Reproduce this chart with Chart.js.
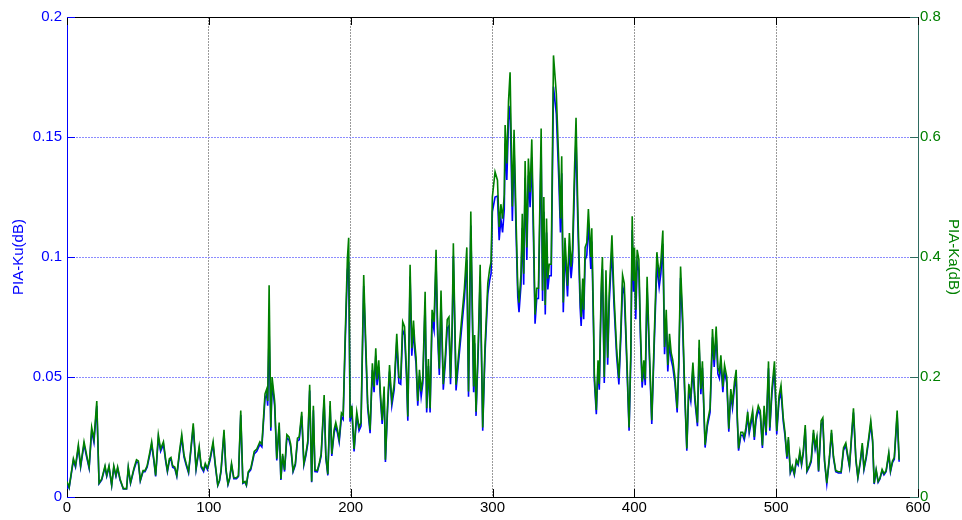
<!DOCTYPE html>
<html>
<head>
<meta charset="utf-8">
<script src="https://cdn.jsdelivr.net/npm/chart.js@4/dist/chart.umd.min.js"></script>
<style>
  html, body { margin: 0; padding: 0; background: #fff; }
  #wrap { width: 962px; height: 520px; position: relative; }
</style>
</head>
<body>
<div id="wrap"><canvas id="pia" width="962" height="520"></canvas></div>
<script>
// sample index along the track
const xPos = [
  0, 1.5, 4.5, 6, 8, 9.6, 12, 14, 15.6, 17.4, 19, 21, 22.6, 24.5, 26.8, 28, 29.6, 31.5, 33, 34.5,
  35.7, 37.4, 39.7, 42, 43.2, 44.8, 47.2, 49, 50.3, 51.7, 53.6, 55, 56.5, 58.5, 59.7, 61.3, 62.5, 64.4, 66, 68,
  69.6, 70.8, 72.2, 73.3, 74.5, 76, 77.4, 79.3, 80.9, 82.5, 84, 85.7, 87.3, 89, 91, 93.2, 94.6, 96.3, 97.5, 99,
  100.8, 103, 104.5, 106.3, 107.5, 108.6, 110.7, 112, 113.5, 114.7, 116, 117.6, 119.5, 120.9, 122.5, 124, 125.5, 126.5, 127.8, 129.6,
  131, 132, 133.8, 136, 137.4, 139.6, 140.8, 141.5, 142.5, 143.7, 144.6, 145.5, 146.4, 147.9, 149.6, 150.8, 152, 153.4, 155, 156.5,
  157.7, 159.4, 161, 162.5, 163.7, 165.5, 167, 168.4, 169.8, 171.1, 172.5, 173.7, 174.8, 176.5, 178, 179.2, 181.3, 182.5, 183.9, 185.5,
  186.7, 188.3, 189.5, 190.7, 191.9, 193.5, 194.7, 196, 197.7, 198.6, 199.6, 200.8, 202.4, 204.3, 205.9, 207.3, 209.2, 210.6, 212, 213.7,
  215.3, 216.5, 217.7, 218.6, 219.8, 221, 222.2, 223.6, 224.5, 226, 227.4, 229, 230.7, 232.5, 234, 235.3, 236.7, 238, 239.4, 240.3,
  241.9, 243.1, 244.3, 245.2, 246.1, 247.3, 248.5, 249.7, 250.9, 252.5, 253.6, 254.8, 256, 257.4, 258.8, 260.2, 261.3, 262.5, 263.7, 265.3,
  266.7, 268.1, 269.3, 270.4, 271.6, 272.4, 274.3, 275.9, 277.9, 280.2, 281.9, 283.1, 284.7, 286.7, 287.4, 288.4, 290, 291.3, 293.1, 294.7,
  296.7, 298, 299, 299.9, 301.8, 303.5, 304.7, 305.9, 307.1, 308.3, 308.9, 310.1, 311.3, 312.4, 314, 315.2, 316.6, 317.8, 318.7, 320.1,
  321, 322, 323, 324.2, 325.3, 326.5, 327.7, 328.9, 330, 331.2, 332.4, 334.3, 335.3, 336.2, 337.2, 338.1, 339, 340, 341.4, 343,
  345, 346.7, 347.9, 348.8, 349.9, 351.1, 352.9, 354.2, 355.4, 356.4, 357.8, 358.9, 360.1, 361.8, 362.5, 363.6, 364.3, 365.3, 366.5, 367.6,
  369.3, 370, 371.3, 371.8, 373.2, 374.4, 375.3, 376.7, 377.5, 378.8, 380, 381.2, 382.3, 384.2, 385.6, 387.5, 389.1, 390.5, 391.7, 392.9,
  394.6, 396.3, 397.5, 398.5, 399.4, 400.1, 401, 402, 403.2, 404.3, 405.5, 406.7, 407.7, 409, 410.4, 412.3, 414, 415.9, 417.5, 418.7,
  420.1, 421.3, 422.5, 423.6, 424.8, 426, 427.1, 428.6, 430.2, 431.4, 432.6, 434, 435.4, 437, 438.4, 439.8, 441.3, 442.7, 444.5, 445.7,
  446.9, 448, 449.9, 451.5, 453.4, 455.1, 456.3, 457.7, 458.9, 460, 461, 462.4, 463.6, 465.2, 466.6, 468, 469.2, 470.6, 471.8, 472.6,
  473.5, 475.1, 476.4, 477.5, 478.7, 479.9, 481, 482.2, 483.4, 484.6, 485.8, 487.4, 488.8, 490.3, 491.5, 492.9, 494.6, 495.5, 497, 498.8,
  500.4, 502, 503.4, 505, 506.2, 507.6, 508.6, 510, 511.4, 512.8, 514.2, 515.5, 516.7, 517.9, 519.1, 520.5, 521.7, 523.3, 524.7, 526.3,
  527.5, 528.7, 529.9, 531.7, 532.9, 534.1, 535.7, 537.6, 539, 540.4, 542, 543.9, 545.8, 547.5, 549.1, 550.3, 551.7, 553.4, 554.5, 556.2,
  557.6, 559.3, 560.7, 561.9, 563.5, 565.3, 566.7, 568, 569.1, 570.5, 571.9, 573.1, 574.7, 576, 577.5, 579.4, 580.6, 582, 583.3, 585.3,
  586.7
];

// PIA-Ku (dB), left axis
const piaKu = [
  .0061, .0038, .0152, .0124, .0206, .0124, .0219, .0162, .0119, .0276, .0228, .038, .0055, .0071, .0124, .0086, .0124, .0048, .0124, .0086,
  .0119, .0071, .0034, .0034, .0119, .0057, .0114, .0147, .0143, .0067, .0105, .0105, .0124, .018, .0219, .0147, .0086, .0247, .019, .0219,
  .0147, .0105, .0152, .0157, .0124, .0119, .0086, .018, .0247, .0166, .0133, .01, .019, .0292, .0114, .02, .0124, .0106, .0133, .0114,
  .0152, .0219, .0133, .0048, .0067, .0106, .0266, .0114, .0051, .0076, .0133, .0076, .0076, .0086, .0342, .0057, .0062, .0048, .01, .0114,
  .0152, .018, .019, .0219, .0209, .0409, .0428, .038, .07, .0276, .0475, .0428, .038, .0152, .0295, .0071, .0171, .0106, .0247, .0238,
  .0209, .0105, .0133, .0233, .0238, .0338, .0133, .0171, .0223, .0444, .0062, .0361, .0106, .0105, .0138, .0171, .0404, .0162, .009, .038,
  .0171, .0266, .0295, .0266, .0228, .0333, .0323, .0608, .0945, .098, .0314, .0361, .019, .0338, .0276, .0295, .0879, .0618, .0371, .0266,
  .0529, .0437, .0589, .0466, .0542, .0409, .0304, .0437, .0146, .0361, .0523, .038, .0447, .0646, .0475, .047, .0694, .0675, .0494, .0318,
  .0919, .0589, .0698, .0608, .0554, .038, .0504, .0418, .0475, .0812, .0352, .0546, .0352, .0741, .0694, .0979, .0675, .0508, .0817, .0447,
  .0556, .0703, .0713, .047, .0694, .1004, .0444, .0551, .0681, .0827, .0988, .0418, .1131, .0437, .0641, .0338, .0618, .0919, .0276, .0595,
  .0846, .0903, .0931, .1188, .125, .1254, .107, .1159, .1102, .1197, .1473, .1321, .1568, .163, .115, .1454, .1102, .0836, .077, .0884,
  .1121, .0884, .133, .0988, .134, .1207, .1416, .1074, .0722, .0827, .0827, .1459, .0817, .1188, .076, .1102, .0865, .0922, .0922, .171,
  .1596, .133, .1102, .1349, .077, .1026, .0836, .1045, .0912, .0979, .1292, .1501, .115, .0789, .0713, .0865, .0741, .0988, .1007, .114,
  .095, .1064, .0675, .0485, .0345, .0542, .0447, .0846, .095, .0475, .0899, .0551, .0808, .1036, .0808, .0589, .0469, .0665, .0879, .0846,
  .057, .0276, .057, .1112, .0855, .0988, .0741, .0979, .0941, .0665, .0456, .0542, .0466, .0872, .0618, .0304, .0627, .0969, .0874, .0931,
  .1055, .0595, .0741, .0523, .0646, .057, .0542, .0475, .0352, .0551, .0912, .0722, .0447, .0193, .0447, .0399, .0532, .0399, .0295, .0622,
  .0428, .0538, .0206, .0295, .0352, .0665, .0542, .0675, .0513, .0494, .0561, .0437, .0523, .0475, .0272, .0428, .0371, .0456, .0504, .0318,
  .0193, .0257, .0257, .0238, .0276, .0338, .0266, .0304, .0342, .0238, .0318, .0361, .0342, .0204, .0361, .0257, .0536, .0276, .0428, .0536,
  .0261, .0399, .0442, .0314, .0257, .016, .0238, .01, .0124, .0092, .0147, .0133, .018, .0133, .018, .0285, .0105, .0124, .0147, .0266,
  .02, .0238, .0105, .0302, .0314, .0147, .0054, .0162, .0266, .0162, .0105, .01, .01, .0195, .0214, .0171, .0124, .0266, .0352, .0152,
  .0079, .0143, .0214, .0114, .0162, .0238, .0302, .0228, .0054, .0109, .0061, .0074, .0109, .0092, .0105, .0176, .0105, .0143, .0157, .0342,
  .0147
];

// PIA-Ka (dB), right axis
const piaKa = [
  .026, .016, .064, .052, .087, .052, .092, .068, .05, .116, .096, .16, .023, .03, .052, .036, .052, .02, .052, .036,
  .05, .03, .014, .014, .05, .024, .048, .062, .06, .028, .044, .044, .052, .076, .092, .062, .036, .104, .08, .092,
  .062, .044, .064, .066, .052, .05, .036, .076, .104, .07, .056, .042, .08, .123, .048, .084, .052, .045, .056, .048,
  .064, .092, .056, .02, .028, .045, .112, .048, .022, .032, .056, .032, .032, .036, .144, .024, .026, .02, .042, .048,
  .064, .076, .08, .092, .088, .172, .18, .16, .353, .116, .2, .18, .16, .064, .124, .03, .072, .045, .104, .1,
  .088, .044, .056, .098, .1, .142, .056, .072, .094, .187, .026, .152, .045, .044, .058, .072, .17, .068, .038, .16,
  .072, .112, .124, .112, .096, .14, .136, .256, .398, .432, .132, .152, .08, .142, .116, .124, .37, .26, .156, .112,
  .223, .184, .248, .196, .228, .172, .128, .184, .062, .152, .22, .16, .188, .272, .2, .198, .292, .284, .208, .134,
  .387, .248, .294, .256, .233, .16, .212, .176, .2, .342, .148, .23, .148, .312, .292, .412, .284, .214, .344, .188,
  .234, .296, .3, .198, .292, .423, .187, .232, .287, .348, .416, .176, .476, .184, .27, .142, .26, .387, .116, .25,
  .356, .38, .392, .5, .542, .528, .45, .488, .464, .504, .62, .556, .66, .708, .484, .612, .464, .352, .324, .372,
  .472, .372, .56, .416, .564, .508, .596, .452, .304, .348, .348, .614, .344, .5, .32, .464, .364, .388, .388, .736,
  .672, .56, .464, .568, .324, .432, .352, .44, .384, .412, .544, .632, .484, .332, .3, .364, .312, .416, .424, .48,
  .4, .448, .284, .204, .145, .228, .188, .356, .4, .2, .378, .232, .34, .436, .34, .248, .198, .28, .37, .356,
  .24, .116, .24, .468, .36, .416, .312, .412, .396, .28, .192, .228, .196, .367, .26, .128, .264, .408, .368, .392,
  .444, .25, .312, .22, .272, .24, .228, .2, .148, .232, .384, .304, .188, .081, .188, .168, .224, .168, .124, .262,
  .18, .226, .087, .124, .148, .28, .228, .284, .216, .208, .236, .184, .22, .2, .114, .18, .156, .192, .212, .134,
  .081, .108, .108, .1, .116, .142, .112, .128, .144, .1, .134, .152, .144, .086, .152, .108, .226, .116, .18, .226,
  .11, .168, .186, .132, .108, .067, .1, .042, .052, .039, .062, .056, .076, .056, .076, .12, .044, .052, .062, .112,
  .084, .1, .044, .127, .132, .062, .023, .068, .112, .068, .044, .042, .042, .082, .09, .072, .052, .112, .148, .064,
  .033, .06, .09, .048, .068, .1, .127, .096, .023, .046, .026, .031, .046, .039, .044, .074, .044, .06, .066, .144,
  .062
];

const xTicks = [0, 100, 200, 300, 400, 500, 600];
const kuTicks = [0, 0.05, 0.1, 0.15, 0.2];
const kaTicks = [0, 0.2, 0.4, 0.6, 0.8];

const FONT = "'Liberation Sans', Arial, Helvetica, sans-serif";
const BLUE = "#0000ff";
const GREEN = "#008000";
const RIGHT_AXIS = "#2e6b60";

const plain = v => String(+Number(v).toFixed(4));

// MATLAB style frame: dotted grids, top border, inward tick marks
const frame = {
  id: "frame",
  beforeDatasetsDraw(chart) {
    const { ctx, chartArea: a, scales } = chart;
    ctx.save();
    ctx.lineWidth = 1;
    ctx.setLineDash([2, 1]);
    ctx.strokeStyle = "#8c8cff";
    kuTicks.slice(1, -1).forEach(v => {
      const py = Math.round(scales.yKu.getPixelForValue(v)) + 0.5;
      ctx.beginPath();
      ctx.moveTo(a.left, py); ctx.lineTo(a.right, py);
      ctx.stroke();
    });
    ctx.restore();
  },
  afterDraw(chart) {
    const { ctx, chartArea: a, scales } = chart;
    const len = 8;
    ctx.save();
    ctx.lineWidth = 1;
    ctx.strokeStyle = "#000";
    ctx.beginPath();
    ctx.moveTo(a.left, a.top + 0.5);
    ctx.lineTo(a.right, a.top + 0.5);
    ctx.stroke();
    xTicks.forEach(v => {
      const px = Math.round(scales.x.getPixelForValue(v)) + 0.5;
      ctx.beginPath();
      ctx.moveTo(px, a.bottom); ctx.lineTo(px, a.bottom - len);
      ctx.moveTo(px, a.top); ctx.lineTo(px, a.top + len);
      ctx.stroke();
    });
    ctx.strokeStyle = BLUE;
    kuTicks.forEach(v => {
      const py = Math.round(scales.yKu.getPixelForValue(v)) + 0.5;
      ctx.beginPath();
      ctx.moveTo(a.left, py); ctx.lineTo(a.left + len, py);
      ctx.stroke();
    });
    ctx.strokeStyle = RIGHT_AXIS;
    kaTicks.forEach(v => {
      const py = Math.round(scales.yKa.getPixelForValue(v)) + 0.5;
      ctx.beginPath();
      ctx.moveTo(a.right, py); ctx.lineTo(a.right - len, py);
      ctx.stroke();
    });
    ctx.restore();
  }
};

new Chart(document.getElementById("pia").getContext("2d"), {
  type: "line",
  data: {
    datasets: [
      {
        label: "PIA-Ka",
        data: xPos.map((x, i) => ({ x: x, y: piaKa[i] })),
        yAxisID: "yKa",
        borderColor: GREEN,
        borderWidth: 1.6,
        pointRadius: 0,
        tension: 0,
        order: 0,
      },
      {
        label: "PIA-Ku",
        data: xPos.map((x, i) => ({ x: x, y: piaKu[i] })),
        yAxisID: "yKu",
        borderColor: BLUE,
        borderWidth: 1.6,
        pointRadius: 0,
        tension: 0,
        order: 1,
      },
    ],
  },
  options: {
    responsive: false,
    animation: false,
    events: [],
    layout: { padding: { top: 17, right: 0, left: 0, bottom: 0 } },
    plugins: { legend: { display: false }, tooltip: { enabled: false } },
    scales: {
      x: {
        type: "linear",
        min: 0,
        max: 600,
        afterFit: s => { s.height = 23; },
        afterBuildTicks: s => { s.ticks = xTicks.map(v => ({ value: v })); },
        ticks: { color: "#000", font: { family: FONT, size: 15 }, padding: 2, maxRotation: 0, callback: plain },
        grid: { color: "#9a9a9a", lineWidth: 1, drawTicks: false },
        border: { color: "#000", width: 1, dash: [2, 1] },
      },
      yKu: {
        position: "left",
        min: 0,
        max: 0.2,
        afterFit: s => { s.width = 67; },
        afterBuildTicks: s => { s.ticks = kuTicks.map(v => ({ value: v })); },
        ticks: { color: BLUE, font: { family: FONT, size: 15 }, padding: 5, callback: plain },
        grid: { drawOnChartArea: false, drawTicks: false },
        border: { color: BLUE, width: 1 },
        title: { display: true, text: "PIA-Ku(dB)", color: BLUE, font: { family: FONT, size: 15 }, padding: { top: 10, bottom: 0 } },
      },
      yKa: {
        position: "right",
        min: 0,
        max: 0.8,
        afterFit: s => { s.width = 44; },
        afterBuildTicks: s => { s.ticks = kaTicks.map(v => ({ value: v })); },
        ticks: { color: GREEN, font: { family: FONT, size: 15 }, padding: 2, callback: plain },
        grid: { drawOnChartArea: false, drawTicks: false },
        border: { color: RIGHT_AXIS, width: 1 },
        title: { display: true, text: "PIA-Ka(dB)", color: GREEN, font: { family: FONT, size: 15 }, padding: { top: 0, bottom: 0 } },
      },
    },
  },
  plugins: [frame],
});
</script>
</body>
</html>
